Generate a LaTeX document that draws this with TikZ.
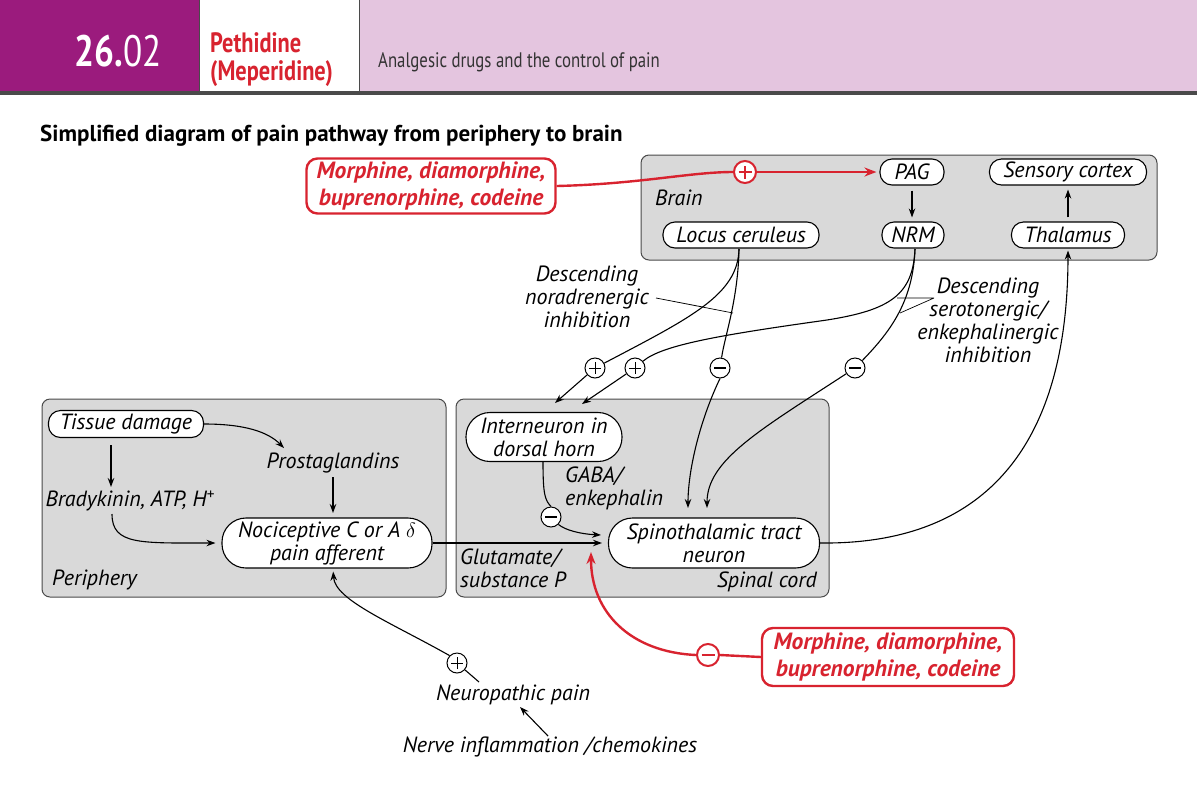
\documentclass[tikz,border=0pt]{standalone}
\usepackage{fontspec}
\setmainfont{PT Sans}
\newfontfamily\condfont[FakeStretch=0.8]{PT Sans}
\usetikzlibrary{arrows.meta,calc}
\definecolor{hdrpurple}{HTML}{9B1B7D}
\definecolor{hdrpink}{HTML}{E4C5DF}
\definecolor{drugred}{HTML}{D8232F}
\definecolor{boxgrey}{HTML}{D9D9D9}
\definecolor{boxline}{HTML}{4A4A4A}
\definecolor{txtgrey}{HTML}{333333}
\begin{document}
\begin{tikzpicture}[x=1pt,y=-1pt,
  lbl/.style={font=\itshape\fontsize{22}{23}\selectfont, inner sep=0pt, align=center},
  pill/.style={lbl, draw=black, fill=white, line width=1.1pt, rounded corners=12pt, minimum height=26pt},
  pilltwo/.style={pill, rounded corners=24pt, minimum height=49pt},
  region/.style={draw=boxline, fill=boxgrey, line width=1pt, rounded corners=8pt},
  conn/.style={line width=1.1pt, -{Stealth[length=9pt,width=6.5pt]}},
  plain/.style={line width=1.1pt},
  sign/.style={circle, draw=black, fill=white, line width=1pt, minimum size=20pt, inner sep=0pt},
  plussign/.style={sign, path picture={\draw[line width=1pt]
     ([xshift=-6pt]path picture bounding box.center) -- ([xshift=6pt]path picture bounding box.center)
     ([yshift=-6pt]path picture bounding box.center) -- ([yshift=6pt]path picture bounding box.center);}},
  minussign/.style={sign, path picture={\draw[line width=1.2pt]
     ([xshift=-6pt]path picture bounding box.center) -- ([xshift=6pt]path picture bounding box.center);}},
  redsign/.style={circle, draw=drugred, fill=white, line width=2pt, minimum size=22pt, inner sep=0pt},
  redplus/.style={redsign, path picture={\draw[drugred, line width=1.8pt]
     ([xshift=-6.5pt]path picture bounding box.center) -- ([xshift=6.5pt]path picture bounding box.center)
     ([yshift=-6.5pt]path picture bounding box.center) -- ([yshift=6.5pt]path picture bounding box.center);}},
  redminus/.style={redsign, path picture={\draw[drugred, line width=1.8pt]
     ([xshift=-6.5pt]path picture bounding box.center) -- ([xshift=6.5pt]path picture bounding box.center);}},
  drugbox/.style={draw=drugred, fill=white, line width=2.4pt, rounded corners=11pt, text=drugred,
     font=\bfseries\itshape\fontsize{23.5}{27}\selectfont, align=center, inner sep=0pt},
  redconn/.style={drugred, line width=2.4pt, -{Stealth[length=12pt,width=9pt]}},
  redline/.style={drugred, line width=2.4pt}
]
\useasboundingbox (0,0) rectangle (1197,804);
% ---------- header ----------
\fill[hdrpurple] (0,0) rectangle (199,92);
\fill[white] (199,0) rectangle (359,92);
\fill[hdrpink] (359,0) rectangle (1197,92);
\draw[boxline, line width=1.2pt] (199.5,0) -- (199.5,92) (359.5,0) -- (359.5,92);
\fill[boxline] (0,91) rectangle (1197,95);
\node[anchor=base, text=white, inner sep=0pt, font=\condfont\fontsize{44}{44}\selectfont] (num) at (118,66) {\textbf{26.}02};
\node[anchor=base west, text=drugred, inner sep=0pt, font=\condfont\bfseries\fontsize{28}{28}\selectfont] (drugA) at (210,52) {Pethidine};
\node[anchor=base west, text=drugred, inner sep=0pt, font=\condfont\bfseries\fontsize{28}{28}\selectfont] (drugB) at (210,80) {(Meperidine)};
\node[anchor=base west, text=txtgrey, inner sep=0pt, font=\condfont\fontsize{21}{22}\selectfont] (sub) at (378,67) {Analgesic drugs and the control of pain};
% ---------- title ----------
\node[anchor=base west, inner sep=0pt, font=\bfseries\fontsize{23}{26}\selectfont] (title) at (40,141) {Simplified diagram of pain pathway from periphery to brain};
% ---------- regions ----------
\draw[region] (641,155) rectangle (1157,260);
\draw[region] (42,399) rectangle (446,597);
\draw[region] (456,399) rectangle (829,597);
% ---------- brain nodes ----------
\node[pill, minimum width=64pt] (pag) at (912,172) {PAG};
\node[pill, minimum width=157pt] (cortex) at (1068,172) {Sensory cortex};
\node[pill, minimum width=156pt] (lc) at (741,235) {Locus ceruleus};
\node[pill, minimum width=62pt] (nrm) at (913,235) {NRM};
\node[pill, minimum width=113pt] (thal) at (1068,235) {Thalamus};
\node[lbl, anchor=west] (brain) at (655,198) {Brain};
% ---------- periphery ----------
\node[pill, minimum width=155pt, minimum height=27pt] (td) at (126,424) {Tissue damage};
\node[lbl] (pg) at (333,463) {Prostaglandins};
\node[lbl] (bk) at (130,501) {Bradykinin, ATP, H\textsuperscript{+}};
\node[pilltwo, minimum width=210pt, minimum height=50pt] (noci) at (327,543) {Nociceptive C or A $\delta$\\pain afferent};
\node[lbl, anchor=west] (peri) at (52,580) {Periphery};
% ---------- spinal cord ----------
\node[pilltwo, minimum width=156pt] (inter) at (544,437) {Interneuron in\\dorsal horn};
\node[pilltwo, minimum width=211pt, minimum height=50pt] (spino) at (714,543) {Spinothalamic tract\\neuron};
\node[lbl, align=left, anchor=west] (gaba) at (565,488) {GABA/\\enkephalin};
\node[lbl, align=left, anchor=west] (glu) at (460,568) {Glutamate/\\substance P};
\node[lbl, anchor=east] (sc) at (817,582) {Spinal cord};
% ---------- descending labels ----------
\node[lbl] (dna) at (587,297) {Descending\\noradrenergic\\inhibition};
\node[lbl] (dse) at (988,320) {Descending\\serotonergic/\\enkephalinergic\\inhibition};
% ---------- bottom labels ----------
\node[lbl] (neuro) at (513,695) {Neuropathic pain};
\node[lbl] (nerve) at (550,747) {Nerve inflammation /chemokines};
% ---------- drug boxes ----------
\node[drugbox, minimum width=249pt, minimum height=55pt] (drugtop) at (431,186) {Morphine, diamorphine,\\buprenorphine, codeine};
\node[drugbox, minimum width=252pt, minimum height=58pt] (drugbot) at (888,657) {Morphine, diamorphine,\\buprenorphine, codeine};
% ---------- signs ----------
\node[plussign] (p1) at (595,368) {};
\node[plussign] (p2) at (635,368) {};
\node[minussign] (m1) at (720,368) {};
\node[minussign] (m2) at (855,368) {};
\node[minussign] (m3) at (551,517) {};
\node[plussign] (p3) at (457,663) {};
\node[redplus] (rp) at (745,172) {};
\node[redminus] (rm) at (708,655) {};
% ---------- free connector ends ----------
\coordinate (tdB) at (111,445);
\coordinate (bkT) at (111,487);
\coordinate (pgIn) at (284,448);
\coordinate (pgOut) at (333,477);
\coordinate (nociIn) at (333,513);
\coordinate (bkOut) at (112,514);
\coordinate (spIn) at (602,543);
\coordinate (spInB) at (601,535);
\coordinate (redTip) at (591,552);
\coordinate (neuroTop) at (479,682);
\coordinate (neuroBot) at (520,707);
\coordinate (nerveTop) at (548,736);
\coordinate (tipA) at (555,403);
\coordinate (tipB) at (582,404);
\coordinate (tipC) at (688,508);
\coordinate (tipD) at (707,508);
\coordinate (lcOut) at (739,249);
\coordinate (nrmOut) at (915,249);
% ---------- brain arrows ----------
\draw[conn, shorten <=5pt, shorten >=4pt] (pag.south) -- (nrm.north -| pag.south);
\draw[conn, shorten <=4pt, shorten >=4pt] (thal.north) -- (cortex.south);
% ---------- red top ----------
\draw[redline] (drugtop.east) .. controls (640,184) and (690,172) .. (rp.west);
\draw[redconn, shorten >=3pt] (rp.east) -- (pag.west);
% ---------- periphery arrows ----------
\draw[conn] (tdB) -- (bkT);
\draw[conn] (td.east) .. controls (245,424) and (268,432) .. (pgIn);
\draw[conn] (pgOut) -- (nociIn);
\draw[conn, shorten >=6pt] (bkOut) .. controls (112,545) and (140,543) .. (noci.west);
\draw[conn] (noci.east) -- (spIn);
% ---------- interneuron ----------
\draw[plain] ([xshift=-1pt]inter.south) .. controls (543,495) and (545,500) .. (m3.north);
\draw[conn] (m3.south east) .. controls (565,530) and (580,534) .. (spInB);
% ---------- red bottom ----------
\draw[redline] (drugbot.west) -- (rm.east);
\draw[redconn] (rm.west) .. controls (630,652) and (591,612) .. (redTip);
% ---------- spino to thalamus ----------
\draw[conn, shorten >=2pt] (spino.east) .. controls (990,545) and (1068,440) .. (thal.south);
% ---------- neuropathic ----------
\draw[plain] (neuroTop) -- (p3);
\draw[conn, shorten >=3pt] (p3.north west) .. controls (390,622) and (335,600) .. ([xshift=6pt]noci.south);
\draw[conn] (nerveTop) -- (neuroBot);
% ---------- descending ----------
\draw[plain] (lcOut) .. controls (738,295) and (690,318) .. (p1);
\draw[conn] (p1) -- (tipA);
\draw[plain] (lcOut) .. controls (738,300) and (725,335) .. (m1);
\draw[conn] (m1.south) .. controls (700,420) and (688,470) .. (tipC);
\draw[plain] (nrmOut) .. controls (913,295) and (890,310) .. (827,320) .. controls (720,335) and (662,345) .. (p2);
\draw[conn] (p2) -- (tipB);
\draw[plain] (nrmOut) .. controls (913,300) and (892,330) .. (m2);
\draw[conn] (m2) .. controls (760,430) and (707,460) .. (tipD);
% pointer lines
\draw[line width=0.7pt] (656,298) -- (703,307) (656,298) -- (733,313);
\draw[line width=0.7pt] (934,298) -- (897,298) (934,298) -- (900,313);
\end{tikzpicture}
\end{document}
